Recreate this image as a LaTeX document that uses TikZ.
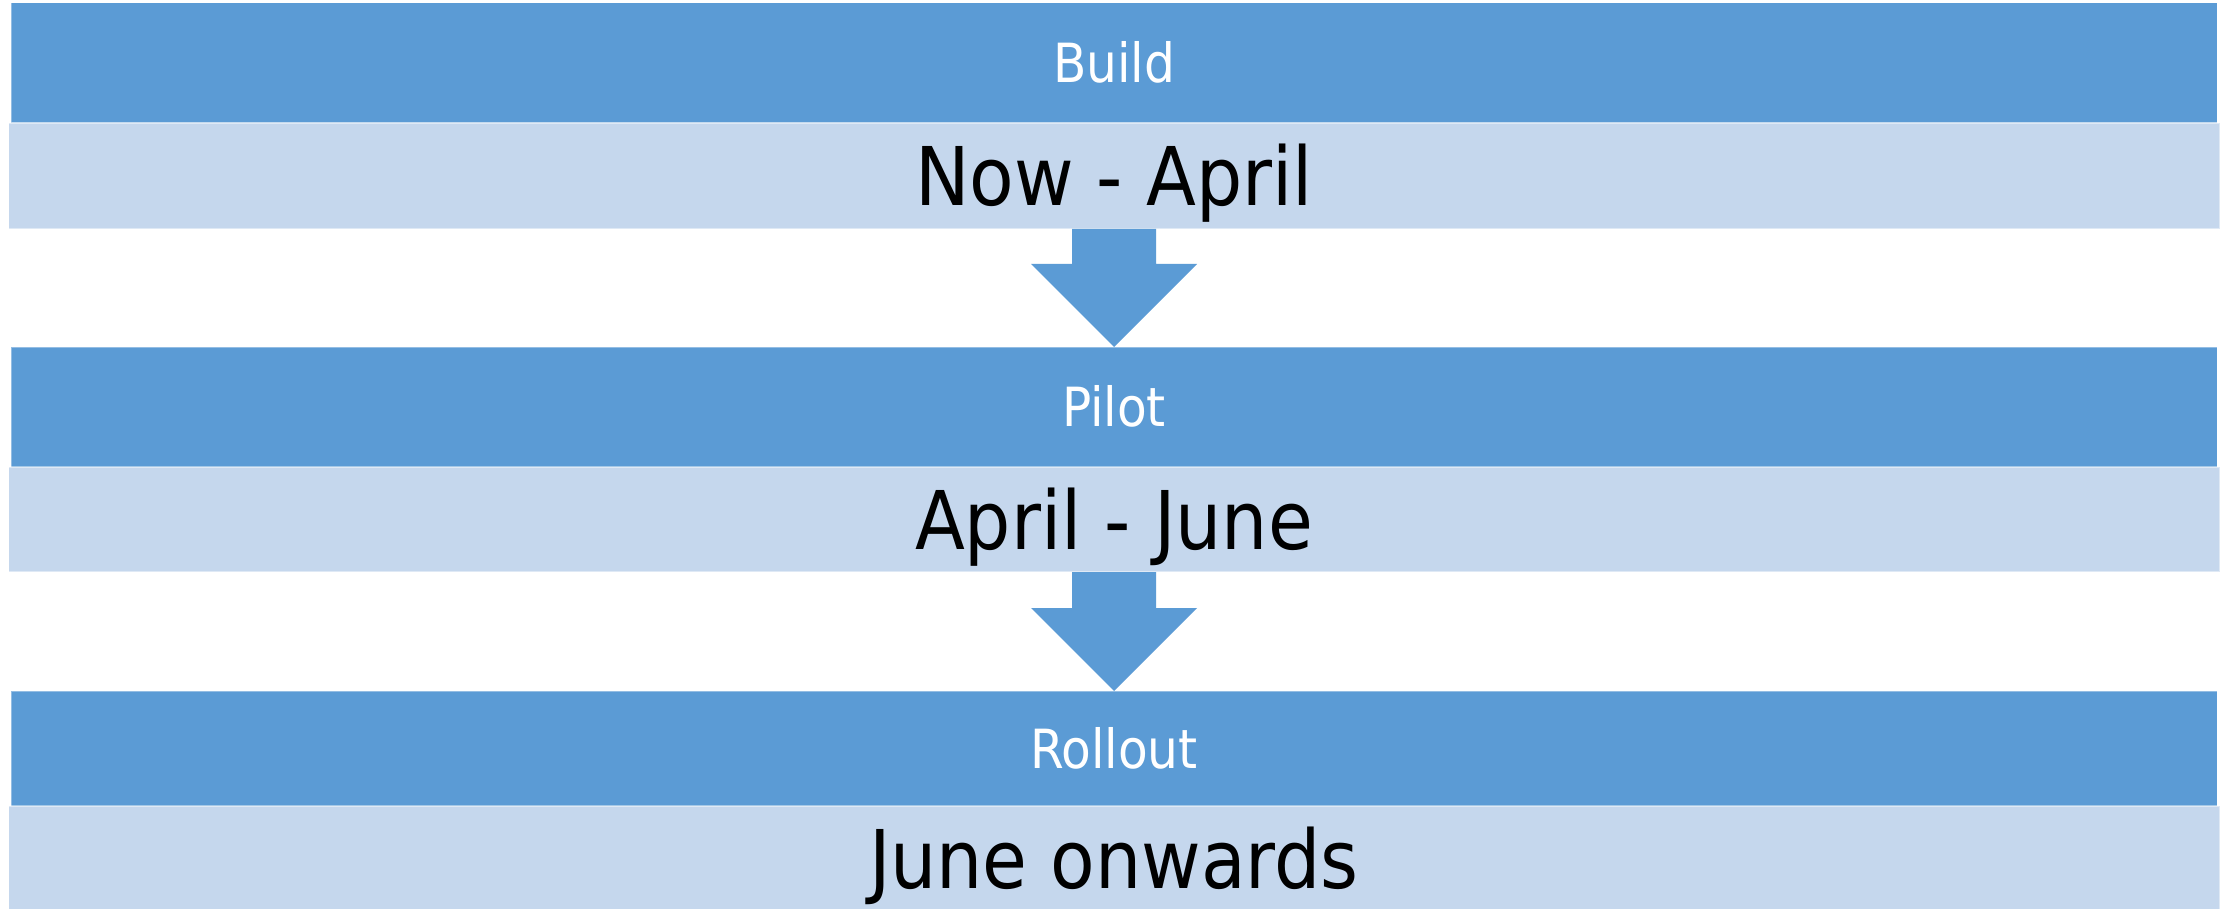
\documentclass[tikz,border=0pt]{standalone}
\usepackage{fontspec}
\setmainfont{DejaVu Sans Condensed}
\usepackage{tikz}
\usetikzlibrary{positioning, calc}
\definecolor{accentblue}{HTML}{5B9BD5}
\definecolor{paleblue}{HTML}{C5D7ED}

\begin{document}
\begin{tikzpicture}[x=1pt, y=-1pt,
		stage/.style={fill=accentblue, draw=white, draw opacity=.35, line width=1pt, inner sep=0pt, outer sep=0pt, minimum width=2206pt, text=white, text height=39pt, text depth=0pt, font=\fontsize{54}{60}\selectfont},
		period/.style={fill=paleblue, draw=white, draw opacity=.45, line width=1.5pt, inner sep=0pt, outer sep=0pt, minimum width=2211pt, minimum height=106pt, text=black, text height=59pt, text depth=0pt, font=\fontsize{81}{90}\selectfont},
		flow/.style={fill=accentblue}]
		\useasboundingbox[fill=white](0, 0) rectangle (2224, 909);
		\node[stage, minimum height=120pt, anchor=north](build) at (1114, 3){Build};
		\node[period, below=0pt of build](buildtime){Now - April};
		\node[stage, minimum height=120pt, below=118pt of buildtime](pilot){Pilot};
		\node[period, minimum height=105pt, below=0pt of pilot](pilottime){April - June};
		\node[stage, minimum height=115pt, below=119pt of pilottime](rollout){Rollout};
		\node[period, below=0pt of rollout](rollouttime){June onwards};
		\fill[flow]($(buildtime.south)+(-42, 0)$)--($(buildtime.south)+(42, 0)$)--($(buildtime.south)+(42, 35)$)--($(buildtime.south)+(83, 35)$)--(pilot.north)--($(buildtime.south)+(-83, 35)$)--($(buildtime.south)+(-42, 35)$)--cycle;
		\fill[flow]($(pilottime.south)+(-42, 0)$)--($(pilottime.south)+(42, 0)$)--($(pilottime.south)+(42, 36)$)--($(pilottime.south)+(83, 36)$)--(rollout.north)--($(pilottime.south)+(-83, 36)$)--($(pilottime.south)+(-42, 36)$)--cycle;
	\end{tikzpicture}
\end{document}
